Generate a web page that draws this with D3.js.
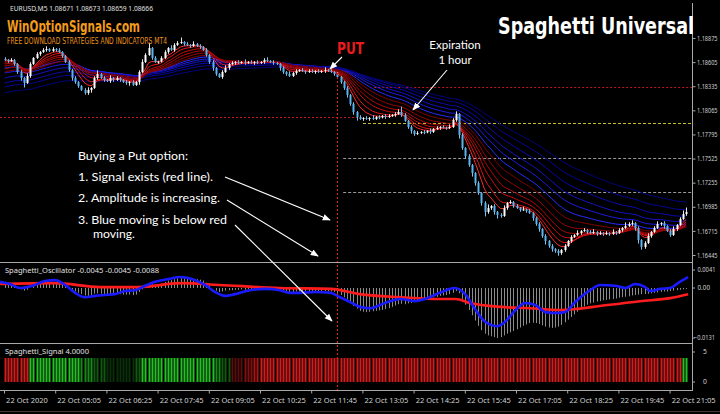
<!DOCTYPE html>
<html>
<head>
<meta charset="utf-8">
<script src="https://cdn.jsdelivr.net/npm/d3@7"></script>
<style>
  body { margin: 0; background: #000; }
  svg { display: block; }
</style>
</head>
<body>
<svg id="chart"></svg>
<script>
// ---- data (EURUSD M5, 22 Oct 2020) ----
const firstOpen = 1.18640;
const closes = [
  1.18629, 1.18617, 1.18629, 1.18584, 1.18494, 1.18427, 1.18371, 1.18449, 1.18584, 1.18651, 1.18696, 1.18718, 1.18741, 1.18752, 1.18729, 1.18752,
  1.18741, 1.18718, 1.18673, 1.18606, 1.18517, 1.18427, 1.18382, 1.18337, 1.18293, 1.18259, 1.18293, 1.18315, 1.18427, 1.18472, 1.18427, 1.18405,
  1.18393, 1.18427, 1.18405, 1.18427, 1.18405, 1.18382, 1.18371, 1.18382, 1.18349, 1.18382, 1.18494, 1.18606, 1.18685, 1.18763, 1.18651, 1.18606,
  1.18610, 1.18651, 1.18718, 1.18763, 1.18741, 1.18797, 1.18819, 1.18830, 1.18808, 1.18797, 1.18785, 1.18808, 1.18785, 1.18774, 1.18741, 1.18685,
  1.18606, 1.18539, 1.18472, 1.18438, 1.18494, 1.18539, 1.18584, 1.18595, 1.18606, 1.18595, 1.18606, 1.18595, 1.18606, 1.18595, 1.18606, 1.18595,
  1.18606, 1.18629, 1.18617, 1.18606, 1.18595, 1.18584, 1.18539, 1.18494, 1.18472, 1.18449, 1.18483, 1.18505, 1.18517, 1.18505, 1.18494, 1.18505,
  1.18494, 1.18505, 1.18494, 1.18505, 1.18517, 1.18505, 1.18494, 1.18472, 1.18438, 1.18382, 1.18315, 1.18237, 1.18136, 1.18046, 1.17990, 1.17968,
  1.17979, 1.17968, 1.17979, 1.17968, 1.17990, 1.17985, 1.18002, 1.17990, 1.18002, 1.18013, 1.18024, 1.18046, 1.18013, 1.17946, 1.17878, 1.17834,
  1.17800, 1.17811, 1.17822, 1.17818, 1.17834, 1.17822, 1.17856, 1.17867, 1.17878, 1.17872, 1.17867, 1.17878, 1.17957, 1.18024, 1.17789, 1.17643,
  1.17554, 1.17453, 1.17363, 1.17251, 1.17139, 1.17027, 1.16927, 1.16971, 1.16994, 1.16927, 1.16893, 1.16882, 1.16971, 1.17027, 1.17039, 1.16994,
  1.16971, 1.16949, 1.16955, 1.16938, 1.16915, 1.16859, 1.16792, 1.16736, 1.16658, 1.16602, 1.16546, 1.16512, 1.16490, 1.16467, 1.16501, 1.16546,
  1.16602, 1.16647, 1.16669, 1.16691, 1.16714, 1.16725, 1.16703, 1.16691, 1.16703, 1.16680, 1.16691, 1.16680, 1.16691, 1.16680, 1.16703, 1.16691,
  1.16725, 1.16747, 1.16770, 1.16792, 1.16803, 1.16747, 1.16613, 1.16535, 1.16579, 1.16658, 1.16703, 1.16747, 1.16792, 1.16803, 1.16770, 1.16714,
  1.16669, 1.16736, 1.16781, 1.16848, 1.16904, 1.16927
];
// wick lengths beyond the body, in pips (0.0001)
const wickHi = [
  2,1,2,1,1,2,1,3,2,1,2,1,2,3,1,2,
  1,2,1,1,2,1,2,1,1,2,3,1,2,4,1,2,
  1,3,1,2,1,1,2,1,2,1,2,3,2,6,1,2,
  1,2,2,1,3,2,2,5,1,2,1,3,1,2,1,2,
  1,2,1,1,2,3,1,2,1,2,1,3,1,2,1,2,
  1,2,3,1,2,1,1,2,1,3,1,2,1,2,1,2,
  2,1,2,1,3,1,2,1,2,1,1,2,1,2,1,2,
  1,2,1,3,1,2,1,2,2,1,2,3,6,2,1,2,
  1,2,1,2,1,3,1,2,1,2,1,3,2,3,1,2,
  1,2,1,1,2,1,2,4,1,2,1,2,3,1,2,1,
  2,1,3,1,2,1,1,2,1,2,1,2,1,2,1,2,
  1,2,1,3,1,2,1,2,3,1,2,1,2,1,3,1,
  2,1,4,2,3,1,2,1,2,3,1,2,3,1,2,1,
  2,3,1,2,4,5
];
const wickLo = [
  1,2,1,2,2,3,5,1,2,1,1,2,1,2,1,1,
  2,1,2,1,2,3,2,2,1,2,2,3,1,2,1,2,
  1,2,2,1,2,1,2,3,1,1,3,1,1,1,2,1,
  2,1,1,2,1,2,1,1,2,1,2,1,1,2,1,2,
  2,3,2,1,2,1,2,1,2,1,1,2,1,1,2,1,
  1,2,1,1,2,1,3,2,2,1,1,2,1,1,2,1,
  1,2,1,1,2,1,1,2,1,2,2,3,2,3,4,1,
  2,1,2,1,1,2,1,2,1,1,2,1,2,1,2,3,
  2,1,1,2,1,2,1,1,2,1,2,1,1,2,4,2,
  3,2,4,3,2,3,5,2,2,3,4,2,1,2,1,2,
  1,2,1,2,1,3,2,3,2,4,2,3,2,3,2,2,
  1,2,1,1,2,1,2,1,1,2,1,2,1,2,1,2,
  1,2,1,1,2,3,4,3,2,1,2,1,1,2,3,1,
  2,1,2,1,1,2
];

// moving average ribbons: periods and their values at the first bar
const redPeriods = [6, 9, 13, 17, 22, 28];
const redSeeds = [1.18629, 1.18606, 1.18584, 1.18561, 1.18528, 1.18494];
const bluePeriods = [34, 42, 50, 60, 72, 86];
const blueSeeds = [1.18539, 1.18483, 1.18427, 1.18371, 1.18326, 1.18259];

// oscillator (units of 0.0001)
const histogram = [
  8,10,9,6, 2,-3,-6,-4,0, 4,7,9,11,12,12,11,11,10, 8,4,0,-4,-8,
  -11,-14,-17,-18,-16,-13,-12,-13,-14,-14,-14,-13,-14,-14,-15,-15,-15,-16,-15,
  -9,-3,4,10,8,6,7,10,14,17,18,20,22,23,22,22,21,21,20,19,17,
  12,6,0,-6,-9,-8,-6,-5,-5,-4,
  -4,-3,-4,-3,-3,-3,-2,-1,0,-1,-2,-2,-3,-5,
  -8,-10,-11,-9,-8,-8,-8,-8,-8,-7,-8,-7,-7,-7,-8,-8,-9,
  -12,-16,-21,-27,-34,-41,-47,-52,
  -54,-55,-54,-53,-52,-51,-50,
  -48,-46,-43,-40,-37,-36,-37,-35,-34,
  -32,-30,-28,-27,-25,-23,-21,-20,-18,-17,-16,-14,
  -11,-7,-12,
  -25,-38,-50,-62,-74,
  -86,-96,-104,-108,-110,-112,-114,-112,
  -108,-104,-101,-98,-94,
  -90,-86,-83,-80,-79,-80,-82,-85,
  -88,-90,-91,-90,-88,-84,
  -78,-72,-66,-60,
  -54,-48,-42,-38,-35,-33,
  -31,-30,-28,-27,-26,-25,-24,-22,-21,
  -20,-19,-17,-16,-15,-14,-14,-13,-12,
  -11,-10,-9,-8,-8,-7,-6,-5,-4,-3,-2
];
const oscBlueBar = [-1.4,1.7,4.8,7,9.5,12.6,15.8,18.9,22,25.1,28.3,31.4,34.5,37.6,40.8,43.9,47,51.7,54.8,59.5,62.6,65.7,68.9,72,76.7,81.4,86,89.2,92.3,97,101.7,104.8,108,111,114.2,118.9,123.6,128.2,131.4,136,140.7,143.9,147,150.2,153.9,156.4,159.7,162.7,165.9,169,172,175.1,178.3,183,186.1,190.8,194,197,200.2,201.7,204.8,208,211,213.6];
const oscBlueVal = [14,9,0,2,7,16,18,7,-11,-21,-18,-16,-14,-7,-5,5,14,21,25,18,7,-9,-18,-14,-5,-2,-5,-11,-11,-9,-11,-21,-32,-43,-46,-34,-25,-30,-25,-11,0,-14,-48,-77,-87,-77,-50,-34,-39,-55,-57,-55,-32,-5,7,5,0,9,2,-7,-2,0,14,25];
const oscRedBar = [-1.4,15.8,30,42,55,67,86,102,111,124,136,141,145.4,155,164.2,173.6,178.3,186,198.6,208,213.6];
const oscRedVal = [9,11,2,2,11,7,0,-2,-14,-21,-25,-25,-34,-43,-46,-50,-48,-41,-30,-23,-14];

// signal strip: level runs (+ green / - red, 4 = strongest)
const signalLevels = [-4, 4, 3, 2, 1, 2, 4, 3, 2, -1, -2, -3, -4, 4];
const signalCounts = [8, 16, 4, 4, 9, 2, 23, 2, 3, 4, 3, 2, 132, 2];

// axes
const priceTicks = [1.18875, 1.18605, 1.18335, 1.18065, 1.17795, 1.17525, 1.17255, 1.16985, 1.16715, 1.16445];
const oscTicks = [0.0041, 0, -0.0131];
const signalTicks = [5, 0];
const timeTickBars = [0, 16, 32, 48, 64, 80, 96, 112, 128, 144, 160, 176, 192, 208];
const timeLabels = ['22 Oct 2020', '22 Oct 05:05', '22 Oct 06:25', '22 Oct 07:45', '22 Oct 09:05', '22 Oct 10:25', '22 Oct 11:45',
  '22 Oct 13:05', '22 Oct 14:25', '22 Oct 15:45', '22 Oct 17:05', '22 Oct 18:25', '22 Oct 19:45', '22 Oct 21:05'];

// horizontal levels (price, first bar, last bar, kind) and the signal bar
const levelPrices = [1.17990, 1.18326, 1.17923, 1.17531, 1.17150];
const levelFrom = [-2, 115.5, 112, 105.8, 105.8];
const levelTo = [112, 215, 215, 215, 215];
const levelKind = ['red', 'red', 'yellow', 'gray', 'gray'];
const signalBar = 104;
const signalBarPrice = 1.18483;

// ---- drawing ----
const W = 720, H = 414, axisX = 692;
const svg = d3.select('#chart').attr('width', W).attr('height', H)
  .style('background', '#000');

const x = d3.scaleLinear().domain([0, 213]).range([4.6, 686.2]);
const y = d3.scaleLinear().domain([1.16445, 1.18875]).range([255, 38]);
const yOsc = d3.scaleLinear().domain([0, 0.0041]).range([288, 270]);
const ySig = d3.scaleLinear().domain([0, 5]).range([382, 352]);

const lblFont = "'Noto Sans','DejaVu Sans',sans-serif";
const narrow = "'Liberation Sans Narrow','DejaVu Sans Condensed','Roboto Condensed',sans-serif";
const human = "Lato,'Open Sans',sans-serif";

const defs = svg.append('defs');
[['clipMain', 3, 259], ['clipOsc', 263, 80], ['clipSig', 344, 47]].forEach(([id, top, h]) => {
  defs.append('clipPath').attr('id', id).append('rect')
    .attr('x', 0).attr('y', top).attr('width', axisX).attr('height', h);
});
defs.append('marker').attr('id', 'arrow')
  .attr('viewBox', '0 0 10 10').attr('refX', 9).attr('refY', 5)
  .attr('markerUnits', 'userSpaceOnUse').attr('markerWidth', 8).attr('markerHeight', 8)
  .attr('orient', 'auto')
  .append('path').attr('d', 'M0,1 L10,5 L0,9 z').attr('fill', '#fff');

// moving averages from the closes
function ema(period, seed) {
  const a = 2 / (period + 1);
  let e = seed;
  return closes.map((c, i) => { if (i > 0) e = e + a * (c - e); return e; });
}
const redColors = ['#ff2a2a', '#e41414', '#c80c0c', '#b00808', '#980404', '#820000'];
const blueColors = ['#2a2aff', '#1c1ce6', '#1212c8', '#0a0aae', '#060696', '#030380'];

const main = svg.append('g').attr('clip-path', 'url(#clipMain)');
const maLine = d3.line().x((d, i) => x(i)).y(d => y(d));

// level lines
const levelStyle = {
  red: { stroke: '#c41818', dash: '2,2' },
  yellow: { stroke: '#c8bb2a', dash: '3,2' },
  gray: { stroke: '#9a9a9a', dash: '3,2' }
};
levelPrices.forEach((p, k) => {
  const s = levelStyle[levelKind[k]];
  main.append('line')
    .attr('x1', Math.max(0, x(levelFrom[k]))).attr('x2', Math.min(axisX, x(levelTo[k])))
    .attr('y1', Math.round(y(p)) + 0.5).attr('y2', Math.round(y(p)) + 0.5)
    .attr('stroke', s.stroke).attr('stroke-dasharray', s.dash).attr('stroke-width', 1);
});

bluePeriods.forEach((p, k) => {
  main.append('path').attr('d', maLine(ema(p, blueSeeds[k])))
    .attr('fill', 'none').attr('stroke', blueColors[k]).attr('stroke-width', 1);
});
redPeriods.forEach((p, k) => {
  main.append('path').attr('d', maLine(ema(p, redSeeds[k])))
    .attr('fill', 'none').attr('stroke', redColors[k]).attr('stroke-width', 1);
});

// candles
const candles = closes.map((c, i) => {
  const o = i ? closes[i - 1] : firstOpen;
  return {
    i, o, c,
    hi: Math.max(o, c) + wickHi[i] * 1e-4,
    lo: Math.min(o, c) - wickLo[i] * 1e-4
  };
});
const cg = main.append('g');
cg.selectAll('line.wick').data(candles).join('line')
  .attr('class', 'wick')
  .attr('x1', d => Math.round(x(d.i)) + 0.5).attr('x2', d => Math.round(x(d.i)) + 0.5)
  .attr('y1', d => y(d.hi)).attr('y2', d => y(d.lo))
  .attr('stroke', d => d.c >= d.o ? '#e8e8e8' : '#7cc4f0').attr('stroke-width', 1);
cg.selectAll('rect.body').data(candles).join('rect')
  .attr('class', 'body')
  .attr('x', d => Math.round(x(d.i)) - 0.5).attr('width', 2)
  .attr('y', d => y(Math.max(d.o, d.c)))
  .attr('height', d => Math.max(1, y(Math.min(d.o, d.c)) - y(Math.max(d.o, d.c))))
  .attr('fill', d => d.c >= d.o ? '#ffffff' : '#5ab4ee');

// oscillator panel
const osc = svg.append('g').attr('clip-path', 'url(#clipOsc)');
osc.selectAll('line').data(histogram).join('line')
  .attr('x1', (d, i) => Math.round(x(i)) + 0.5).attr('x2', (d, i) => Math.round(x(i)) + 0.5)
  .attr('y1', yOsc(0)).attr('y2', d => yOsc(d * 1e-4))
  .attr('stroke', '#8c8c8c').attr('stroke-width', 1);
const oscLine = d3.line().curve(d3.curveMonotoneX).x(d => x(d[0])).y(d => yOsc(d[1] * 1e-4));
osc.append('path').attr('d', oscLine(oscRedBar.map((b, k) => [b, oscRedVal[k]])))
  .attr('fill', 'none').attr('stroke', '#ff1c1c').attr('stroke-width', 2.6);
osc.append('path').attr('d', oscLine(oscBlueBar.map((b, k) => [b, oscBlueVal[k]])))
  .attr('fill', 'none').attr('stroke', '#1a1aff').attr('stroke-width', 2.6);

// signal panel
const sigColor = { 4: '#24c024', 3: '#198a19', 2: '#105a10', 1: '#0a300a', '-1': '#5a0e0e', '-2': '#821010', '-3': '#aa1414', '-4': '#d41c1c' };
const signal = [];
signalLevels.forEach((lv, k) => { for (let n = 0; n < signalCounts[k]; n++) signal.push(lv); });
svg.append('g').attr('clip-path', 'url(#clipSig)')
  .selectAll('rect').data(signal).join('rect')
  .attr('x', (d, i) => Math.round(x(i)) - 0.5).attr('width', 2)
  .attr('y', ySig(4)).attr('height', ySig(0) - ySig(4))
  .attr('fill', d => sigColor[d]);

// signal bar vertical
svg.append('line')
  .attr('x1', Math.round(x(signalBar)) + 0.5).attr('x2', Math.round(x(signalBar)) + 0.5)
  .attr('y1', y(signalBarPrice)).attr('y2', 390)
  .attr('stroke', '#e02020').attr('stroke-dasharray', '2,2');

// frame
const frame = svg.append('g').attr('stroke', '#a8a8a8').attr('stroke-width', 1);
frame.append('line').attr('x1', 0).attr('x2', axisX).attr('y1', 262.5).attr('y2', 262.5);
frame.append('line').attr('x1', 0).attr('x2', axisX).attr('y1', 343.5).attr('y2', 343.5);
frame.append('line').attr('x1', axisX + 0.5).attr('x2', axisX + 0.5).attr('y1', 3).attr('y2', 391);
svg.append('line').attr('x1', 0).attr('x2', W).attr('y1', 411.5).attr('y2', 411.5)
  .attr('stroke', '#3a3a3a');

// right price axis
const yAxis = svg.append('g').attr('transform', `translate(${axisX + 0.5},0)`)
  .call(d3.axisRight(y).tickValues(priceTicks).tickSize(3).tickPadding(1.5).tickFormat(d3.format('.5f')));
yAxis.select('.domain').remove();
yAxis.selectAll('line').attr('stroke', '#a8a8a8');
yAxis.selectAll('text').attr('fill', '#d0d0d0')
  .attr('textLength', 20.5).attr('lengthAdjust', 'spacingAndGlyphs')
  .style('font-family', lblFont).style('font-size', '6.8px');

// oscillator and signal scale labels
const oscLabels = svg.append('g').attr('font-family', lblFont).attr('font-size', 6.8).attr('fill', '#d0d0d0');
oscTicks.forEach(v => {
  const yy = Math.min(yOsc(v), 338);
  const label = v === 0 ? '0.00' : d3.format('.4f')(v);
  oscLabels.append('line').attr('x1', axisX).attr('x2', axisX + 3).attr('y1', yy).attr('y2', yy).attr('stroke', '#a8a8a8');
  oscLabels.append('text').attr('x', v < 0 ? axisX + 2 : axisX + 5.5).attr('y', yy).attr('dy', '0.32em')
    .attr('textLength', v === 0 ? 12.5 : (v < 0 ? 21 : 18)).attr('lengthAdjust', 'spacingAndGlyphs')
    .text(label);
});
signalTicks.forEach(v => {
  oscLabels.append('line').attr('x1', axisX).attr('x2', axisX + 3).attr('y1', ySig(v)).attr('y2', ySig(v)).attr('stroke', '#a8a8a8');
  oscLabels.append('text').attr('x', axisX + 11).attr('y', ySig(v)).attr('dy', '0.32em').text(v);
});

// time axis
const xAxis = svg.append('g').attr('transform', 'translate(0,390.5)')
  .call(d3.axisBottom(x).tickValues(timeTickBars).tickSize(3).tickPadding(4)
    .tickFormat((d, k) => timeLabels[k]));
xAxis.select('.domain').attr('stroke', '#a8a8a8').attr('d', `M0,0H${axisX}`);
xAxis.selectAll('line').attr('stroke', '#a8a8a8').attr('transform', 'translate(-0.6,0)');
xAxis.selectAll('text').attr('fill', '#d0d0d0').attr('text-anchor', 'start').attr('x', 1)
  .style('font-family', lblFont).style('font-size', '7.5px');

// headers
const txt = svg.append('g');
txt.append('text').attr('x', 10).attr('y', 11).attr('fill', '#e0e0e0')
  .attr('font-family', lblFont).attr('font-size', 7.5)
  .attr('textLength', 143).attr('lengthAdjust', 'spacingAndGlyphs')
  .text('EURUSD,M5  1.08671 1.08673 1.08659 1.08666');
txt.append('text').attr('x', 7).attr('y', 32).attr('fill', '#f39c1c')
  .attr('font-family', narrow).attr('font-weight', 'bold').attr('font-size', 16)
  .attr('textLength', 133).attr('lengthAdjust', 'spacingAndGlyphs')
  .text('WinOptionSignals.com');
txt.append('text').attr('x', 7).attr('y', 43.5).attr('fill', '#e8931c')
  .attr('font-family', narrow).attr('font-size', 8.5)
  .attr('textLength', 160).attr('lengthAdjust', 'spacingAndGlyphs')
  .text('FREE DOWNLOAD STRATEGIES AND INDICATORS MT4');
txt.append('text').attr('x', 498).attr('y', 34).attr('fill', '#ffffff')
  .attr('font-family', narrow).attr('font-weight', 'bold').attr('font-size', 23)
  .attr('textLength', 196).attr('lengthAdjust', 'spacingAndGlyphs')
  .text('Spaghetti Universal');
txt.append('text').attr('x', 5).attr('y', 272.5).attr('fill', '#e0e0e0')
  .attr('font-family', lblFont).attr('font-size', 7.5)
  .text('Spaghetti_Oscillator -0.0045 -0.0045 -0.0088');
txt.append('text').attr('x', 5).attr('y', 353.5).attr('fill', '#e0e0e0')
  .attr('font-family', lblFont).attr('font-size', 7.5)
  .text('Spaghetti_Signal 4.0000');

// annotations
txt.append('text').attr('x', 337).attr('y', 53.5).attr('fill', '#e81c1c')
  .attr('font-family', narrow).attr('font-weight', 'bold').attr('font-size', 16)
  .attr('textLength', 27).attr('lengthAdjust', 'spacingAndGlyphs').text('PUT');
txt.append('text').attr('x', 455).attr('y', 49).attr('fill', '#fff').attr('text-anchor', 'middle')
  .attr('font-family', human).attr('font-size', 11.5).text('Expiration');
txt.append('text').attr('x', 455).attr('y', 63.5).attr('fill', '#fff').attr('text-anchor', 'middle')
  .attr('font-family', human).attr('font-size', 11.5).text('1 hour');

const notes = [
  ['Buying a Put option:', 78, 159.5, 110],
  ['1. Signal exists (red line).', 78, 180.5, 135],
  ['2. Amplitude is increasing.', 78, 202, 142],
  ['3. Blue moving is below red', 78, 223.5, 149],
  ['moving.', 93, 237.5, 42]
];
notes.forEach(([t, tx, ty, len]) => {
  txt.append('text').attr('x', tx).attr('y', ty).attr('fill', '#fff')
    .attr('font-family', human).attr('font-size', 12)
    .attr('textLength', len).attr('lengthAdjust', 'spacingAndGlyphs').text(t);
});

const arrows = [
  [342, 57, 330, 69],
  [447, 70, 413, 110],
  [225, 177, 330, 220],
  [227, 200, 318, 256],
  [235, 225, 332, 321]
];
svg.append('g').selectAll('line').data(arrows).join('line')
  .attr('x1', d => d[0]).attr('y1', d => d[1]).attr('x2', d => d[2]).attr('y2', d => d[3])
  .attr('stroke', '#fff').attr('stroke-width', 1.1).attr('marker-end', 'url(#arrow)');
</script>
</body>
</html>
